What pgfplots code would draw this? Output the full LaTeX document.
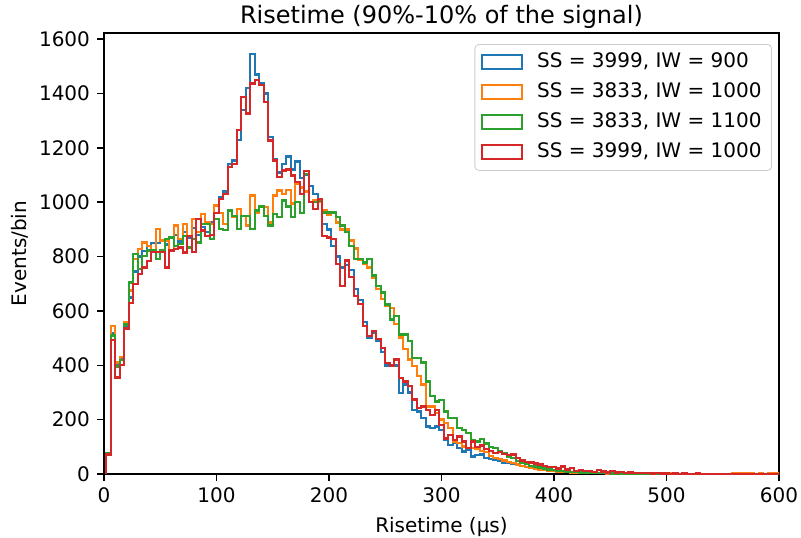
\documentclass[border=0pt]{standalone}
\usepackage{fontspec}
\setmainfont{DejaVu Sans}
\usepackage{pgfplots}
\usepackage{pgfplotstable}
\pgfplotsset{compat=1.18}
\definecolor{cB}{HTML}{1F77B4}
\definecolor{cO}{HTML}{FF7F0E}
\definecolor{cG}{HTML}{2CA02C}
\definecolor{cR}{HTML}{D62728}
% columns: left bin edge (us), SS=3999 IW=900, SS=3833 IW=1000, SS=3833 IW=1100, SS=3999 IW=1000
\pgfplotstableread{
x B O G R
2 0 0 0 0
2 74 70 76 72
6 520 545 510 493
10 400 410 395 355
14 425 430 420 402
18 540 560 550 536
22 650 675 705 630
26 745 791 810 700
30 800 828 755 735
34 820 852 803 760
38 840 840 822 785
42 850 822 822 816
46 850 902 791 816
50 860 859 822 816
54 845 859 865 760
58 870 822 871 822
62 880 914 840 828
66 855 865 846 834
70 890 920 877 815
74 870 877 834 877
78 905 939 865 816
82 880 890 852 939
86 910 957 920 896
90 890 926 920 877
94 925 920 865 880
98 990 988 939 960
102 1020 960 902 1013
106 1040 920 897 1031
110 1142 970 970 1130
114 1154 945 950 1142
118 1230 975 902 1265
122 1339 950 950 1388
126 1420 914 950 1327
130 1546 1025 902 1437
134 1470 963 970 1450
138 1440 982 985 1431
142 1400 982 950 1370
146 1240 926 914 1228
150 1160 1025 957 1154
154 1110 1043 945 1093
158 1140 1030 1006 1117
162 1168 1045 985 1120
166 1120 995 945 1099
170 1150 1068 1000 1074
174 1090 1055 960 1030
178 1100 1040 1105 1115
182 1060 1000 1000 1000
186 1030 1006 1000 975
190 1010 1000 1006 1012
194 920 970 963 877
198 900 955 963 870
202 840 960 963 865
206 800 925 945 772
210 760 900 914 693
214 770 900 890 786
218 750 860 840 725
222 680 830 791 656
226 640 790 791 625
230 560 772 779 545
234 500 760 791 508
238 520 723 730 526
242 490 680 692 496
246 450 643 668 464
250 400 620 624 409
254 397 610 569 400
258 400 551 582 421
262 298 502 514 354
266 330 459 514 341
270 300 421 489 323
274 236 397 428 274
278 230 360 428 243
282 206 329 410 249
286 175 249 341 236
290 169 249 286 218
294 175 224 267 236
298 163 200 273 181
302 126 187 230 131
306 107 169 206 144
310 115 120 206 126
314 95 114 169 138
318 83 101 163 120
322 88 95 150 95
326 64 95 126 120
330 70 92 120 100
334 72 85 128 105
338 60 80 112 92
342 55 66 100 85
346 52 60 95 78
350 48 55 84 82
354 42 50 75 74
358 40 44 62 70
362 38 40 60 72
366 33 35 48 60
370 30 30 42 50
374 25 26 38 44
378 22 22 30 42
382 18 20 28 38
386 15 17 24 35
390 14 15 20 30
394 12 12 16 26
398 10 11 14 25
402 9 9 12 20
406 8 8 10 28
410 8 7 9 16
414 6 6 8 22
418 5 6 7 12
422 5 5 6 15
426 4 4 5 10
430 4 4 5 12
434 3 3 4 8
438 3 3 4 14
442 3 3 3 9
446 2 2 3 6
450 2 2 2 10
454 2 2 2 5
458 2 2 2 8
462 1 1 2 4
466 1 1 1 6
470 1 1 1 3
474 1 1 1 4
478 1 1 1 3
482 1 1 1 3
486 0 1 0 2
490 1 0 1 3
494 0 1 0 2
498 1 0 1 2
502 0 3 0 1
506 1 2 0 2
510 0 1 1 1
514 0 0 0 2
518 1 1 0 1
522 0 0 1 1
526 0 1 0 2
530 1 0 0 1
534 0 1 1 1
538 0 0 0 0
542 1 1 0 1
546 0 0 1 1
550 0 1 0 0
554 1 0 0 1
558 0 2 0 0
562 0 3 1 1
566 1 2 0 0
570 0 3 0 1
574 0 2 0 0
578 1 1 1 1
582 0 2 0 0
586 0 1 0 1
590 1 2 0 0
594 0 3 1 1
598 0 4 0 0
602 0 0 0 0
}\hist

\begin{document}
\begin{tikzpicture}
\useasboundingbox (-52pt,-31.5pt) rectangle (348.5pt,237pt);
\begin{axis}[
  at={(0,0)}, anchor=south west,
  scale only axis, width=337.5pt, height=220.5pt,
  xmin=0, xmax=600, ymin=0, ymax=1623,
  xtick={0,100,...,600}, ytick={0,200,...,1600},
  tick pos=left,
  tick align=outside, major tick length=3.5pt,
  tick style={line width=0.8pt, black},
  axis line style={line width=0.8pt},
  ticklabel style={font=\fontsize{10}{12}\selectfont},
  /pgf/number format/assume math mode=true,
  /pgf/number format/1000 sep={},
  scaled ticks=false,
  title={Risetime (90\%-10\% of the signal)},
  every axis title/.style={at={(0.5,1)}, anchor=base, yshift=5pt, font=\fontsize{12}{14}\selectfont},
  xlabel={Risetime (µs)}, ylabel={Events/bin},
  label style={font=\fontsize{10}{12}\selectfont},
  ylabel style={yshift=-1.5pt},
  legend cell align=left,
  legend image code/.code={\draw[#1, fill=none, line width=1pt, sharp corners] (0pt,-3.5pt) rectangle (20pt,3.5pt); \path (25pt,0pt);},
  legend style={at={(0.9896,0.975)}, anchor=north east,
    draw=black!20, rounded corners=2pt, fill=white, fill opacity=0.8, text opacity=1,
    font=\fontsize{10}{12}\selectfont,
    nodes={text height=7.5pt, text depth=2pt, inner ysep=2.75pt},
    inner xsep=3pt, inner ysep=1.5pt},
]
\addplot[cB, line width=1.2pt, line join=miter, const plot] table[x=x, y=B]{\hist};
\addlegendentry{SS = 3999, IW = 900}
\addplot[cO, line width=1.2pt, line join=miter, const plot] table[x=x, y=O]{\hist};
\addlegendentry{SS = 3833, IW = 1000}
\addplot[cG, line width=1.2pt, line join=miter, const plot] table[x=x, y=G]{\hist};
\addlegendentry{SS = 3833, IW = 1100}
\addplot[cR, line width=1.2pt, line join=miter, const plot] table[x=x, y=R]{\hist};
\addlegendentry{SS = 3999, IW = 1000}
\end{axis}
\end{tikzpicture}
\end{document}
